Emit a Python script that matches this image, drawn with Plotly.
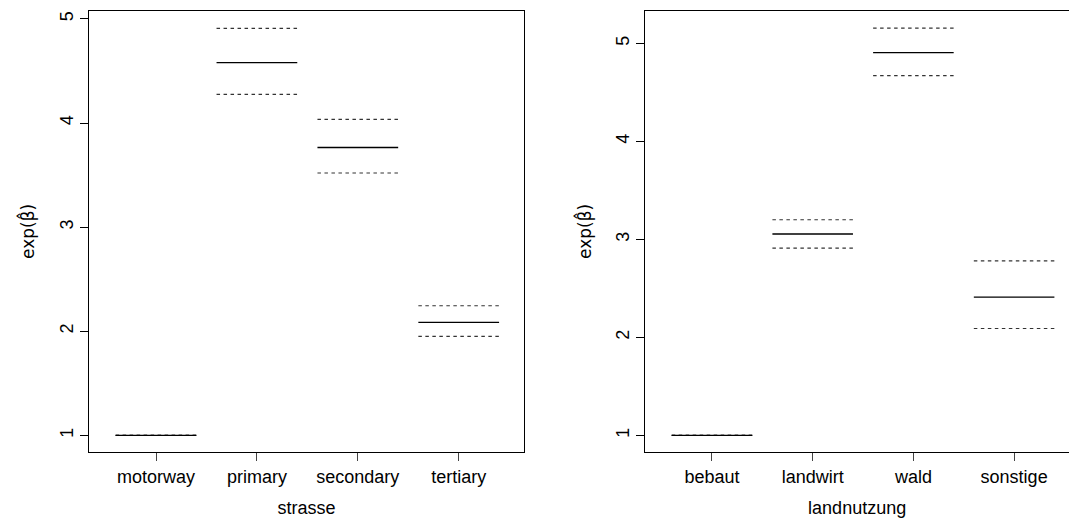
import plotly.graph_objects as go

# Road class effects (exp of coefficient) with confidence bounds
strasse_levels = ["motorway", "primary", "secondary", "tertiary"]
strasse_est = [1.00, 4.58, 3.765, 2.085]
strasse_lo = [1.00, 4.275, 3.52, 1.95]
strasse_hi = [1.00, 4.91, 4.035, 2.245]

# Land use effects (exp of coefficient) with confidence bounds
land_levels = ["bebaut", "landwirt", "wald", "sonstige"]
land_est = [1.00, 3.055, 4.905, 2.41]
land_lo = [1.00, 2.91, 4.67, 2.09]
land_hi = [1.00, 3.20, 5.155, 2.78]

y_ticks = [1, 2, 3, 4, 5]

W, H = 1069, 523
HALF = 0.4
FONT = "Liberation Sans, Arial, Helvetica, sans-serif"
HAT_FONT = "DejaVu Sans, Noto Sans, sans-serif"


def segments(values):
    xs, ys = [], []
    for i, v in enumerate(values, start=1):
        xs += [i - HALF, i + HALF, None]
        ys += [v, v, None]
    return xs, ys


fig = go.Figure()

for est, lo, hi, xa, ya in [
    (strasse_est, strasse_lo, strasse_hi, "x", "y"),
    (land_est, land_lo, land_hi, "x2", "y2"),
]:
    for vals in (lo, hi):
        xs, ys = segments(vals)
        fig.add_trace(go.Scatter(
            x=xs, y=ys, mode="lines", xaxis=xa, yaxis=ya,
            line=dict(color="#333333", width=1.2, dash="3.5px,3.5px"),
            hoverinfo="skip", showlegend=False,
        ))
    xs, ys = segments(est)
    fig.add_trace(go.Scatter(
        x=xs, y=ys, mode="lines", xaxis=xa, yaxis=ya,
        line=dict(color="black", width=1.4),
        showlegend=False,
    ))

y_dom = [(H - 452) / H, (H - 10.7) / H]

common_x = dict(
    tickmode="array", tickvals=[1, 2, 3, 4],
    ticks="outside", ticklen=8, tickcolor="#444444", tickwidth=1,
    showline=True, mirror=True, linecolor="black", linewidth=1,
    showgrid=False, zeroline=False,
    tickfont=dict(family=FONT, size=18, color="black"),
    title_font=dict(family=FONT, size=18, color="black"),
)
common_y = dict(
    tickmode="array", tickvals=y_ticks, ticktext=[str(t) for t in y_ticks],
    tickangle=-90,
    ticks="outside", ticklen=8, tickcolor="black", tickwidth=1,
    showline=True, mirror=True, linecolor="black", linewidth=1,
    showgrid=False, zeroline=False, domain=y_dom,
    tickfont=dict(family=FONT, size=18, color="black"),
    title_font=dict(family=HAT_FONT, size=17, color="black"),
)

fig.update_layout(
    width=W, height=H,
    margin=dict(l=0, r=0, t=0, b=0),
    paper_bgcolor="white", plot_bgcolor="white",
    font=dict(family=FONT, size=18, color="black"),
    xaxis=dict(common_x, domain=[89 / W, 524 / W], range=[0.336, 4.647],
               ticktext=strasse_levels,
               title=dict(text="strasse", standoff=15)),
    yaxis=dict(common_y, anchor="x", range=[0.84, 5.079],
               title=dict(text="exp(β\u0302)", standoff=17)),
    xaxis2=dict(common_x, domain=[645.3 / W, 1.0], range=[0.338, 4.545],
                ticktext=land_levels, anchor="y2",
                title=dict(text="landnutzung", standoff=15)),
    yaxis2=dict(common_y, anchor="x2", range=[0.83, 5.333],
                title=dict(text="exp(β\u0302)", standoff=17)),
)

fig.write_html("out.html")
